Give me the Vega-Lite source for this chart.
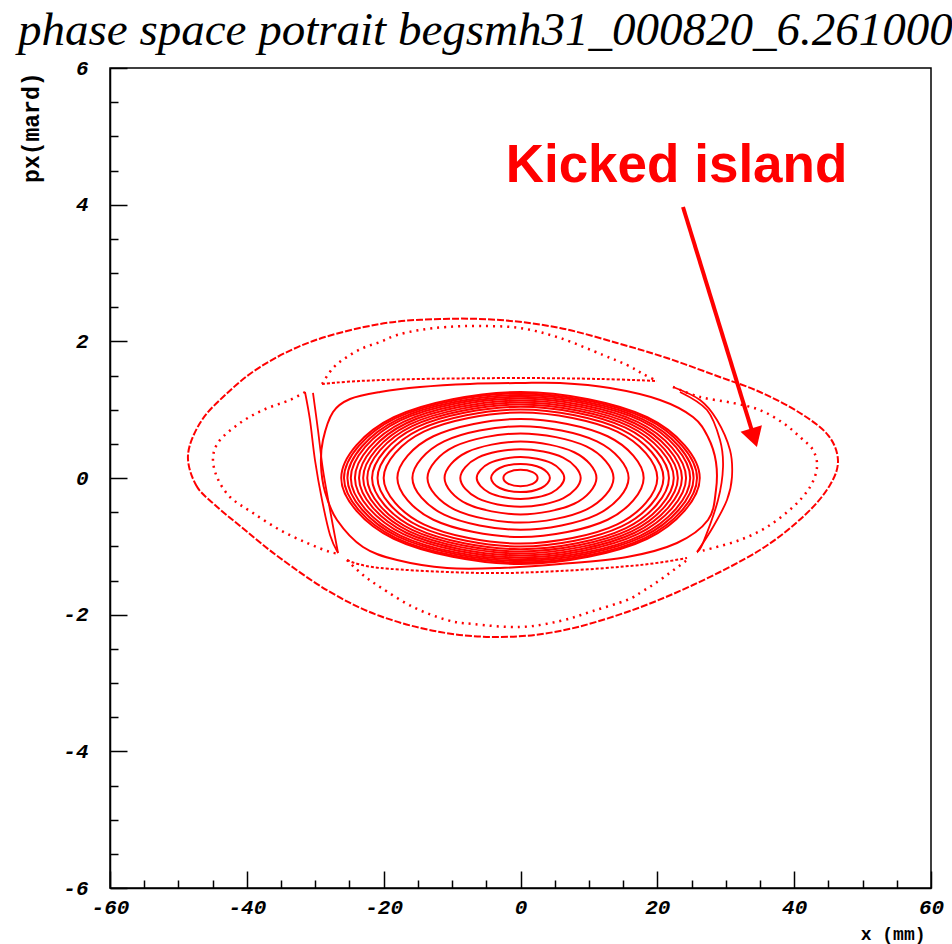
{
  "$schema": "https://vega.github.io/schema/vega-lite/v6.json",
  "width": 821,
  "height": 820,
  "autosize": {"type": "none"},
  "padding": {"left": 110, "top": 68, "right": 21, "bottom": 56},
  "background": "white",
  "title": {
    "text": "phase space potrait begsmh31_000820_6.261000",
    "anchor": "start",
    "frame": "group",
    "font": "Liberation Serif",
    "fontSize": 47,
    "fontStyle": "italic",
    "fontWeight": "normal",
    "color": "black",
    "dx": -92,
    "offset": 2
  },
  "config": {
    "view": {"stroke": "black", "strokeWidth": 1.5},
    "axis": {
      "grid": false,
      "domainColor": "black",
      "domainWidth": 1.5,
      "tickColor": "black",
      "tickWidth": 1.5,
      "labelColor": "black",
      "labelFont": "Liberation Mono",
      "labelFontSize": 21,
      "labelFontStyle": "italic",
      "labelFontWeight": "bold",
      "titleColor": "black",
      "titleFont": "Liberation Mono",
      "titleFontWeight": "bold",
      "labelOverlap": false,
      "labelFlush": false
    }
  },
  "datasets": {
    "core": [
      {"k":1,"i":0,"x":2.5,"y":0},{"k":1,"i":1,"x":1.77,"y":0.085},{"k":1,"i":2,"x":0,"y":0.12},{"k":1,"i":3,"x":-1.77,"y":0.085},{"k":1,"i":4,"x":-2.5,"y":0},{"k":1,"i":5,"x":-1.77,"y":-0.085},{"k":1,"i":6,"x":0,"y":-0.12},{"k":1,"i":7,"x":1.77,"y":-0.085},
      {"k":2,"i":0,"x":4.3,"y":0},{"k":2,"i":1,"x":3.04,"y":0.146},{"k":2,"i":2,"x":0,"y":0.206},{"k":2,"i":3,"x":-3.04,"y":0.146},{"k":2,"i":4,"x":-4.3,"y":0},{"k":2,"i":5,"x":-3.04,"y":-0.146},{"k":2,"i":6,"x":0,"y":-0.206},{"k":2,"i":7,"x":3.04,"y":-0.146},
      {"k":3,"i":0,"x":6.4,"y":0},{"k":3,"i":1,"x":4.53,"y":0.217},{"k":3,"i":2,"x":0,"y":0.307},{"k":3,"i":3,"x":-4.53,"y":0.217},{"k":3,"i":4,"x":-6.4,"y":0},{"k":3,"i":5,"x":-4.53,"y":-0.217},{"k":3,"i":6,"x":0,"y":-0.307},{"k":3,"i":7,"x":4.53,"y":-0.217},
      {"k":4,"i":0,"x":8.8,"y":0},{"k":4,"i":1,"x":6.22,"y":0.299},{"k":4,"i":2,"x":0,"y":0.422},{"k":4,"i":3,"x":-6.22,"y":0.299},{"k":4,"i":4,"x":-8.8,"y":0},{"k":4,"i":5,"x":-6.22,"y":-0.299},{"k":4,"i":6,"x":0,"y":-0.422},{"k":4,"i":7,"x":6.22,"y":-0.299},
      {"k":5,"i":0,"x":11.1,"y":0},{"k":5,"i":1,"x":7.85,"y":0.377},{"k":5,"i":2,"x":0,"y":0.533},{"k":5,"i":3,"x":-7.85,"y":0.377},{"k":5,"i":4,"x":-11.1,"y":0},{"k":5,"i":5,"x":-7.85,"y":-0.377},{"k":5,"i":6,"x":0,"y":-0.533},{"k":5,"i":7,"x":7.85,"y":-0.377},
      {"k":6,"i":0,"x":13.6,"y":0},{"k":6,"i":1,"x":9.62,"y":0.462},{"k":6,"i":2,"x":0,"y":0.653},{"k":6,"i":3,"x":-9.62,"y":0.462},{"k":6,"i":4,"x":-13.6,"y":0},{"k":6,"i":5,"x":-9.62,"y":-0.462},{"k":6,"i":6,"x":0,"y":-0.653},{"k":6,"i":7,"x":9.62,"y":-0.462},
      {"k":7,"i":0,"x":15.8,"y":0},{"k":7,"i":1,"x":11.17,"y":0.536},{"k":7,"i":2,"x":0,"y":0.758},{"k":7,"i":3,"x":-11.17,"y":0.536},{"k":7,"i":4,"x":-15.8,"y":0},{"k":7,"i":5,"x":-11.17,"y":-0.536},{"k":7,"i":6,"x":0,"y":-0.758},{"k":7,"i":7,"x":11.17,"y":-0.536},
      {"k":8,"i":0,"x":18.0,"y":0},{"k":8,"i":1,"x":12.73,"y":0.611},{"k":8,"i":2,"x":0,"y":0.864},{"k":8,"i":3,"x":-12.73,"y":0.611},{"k":8,"i":4,"x":-18.0,"y":0},{"k":8,"i":5,"x":-12.73,"y":-0.611},{"k":8,"i":6,"x":0,"y":-0.864},{"k":8,"i":7,"x":12.73,"y":-0.611},
      {"k":9,"i":0,"x":20.0,"y":0},{"k":9,"i":1,"x":14.14,"y":0.679},{"k":9,"i":2,"x":0,"y":0.96},{"k":9,"i":3,"x":-14.14,"y":0.679},{"k":9,"i":4,"x":-20.0,"y":0},{"k":9,"i":5,"x":-14.14,"y":-0.679},{"k":9,"i":6,"x":0,"y":-0.96},{"k":9,"i":7,"x":14.14,"y":-0.679},
      {"k":10,"i":0,"x":20.9,"y":0},{"k":10,"i":1,"x":14.78,"y":0.709},{"k":10,"i":2,"x":0,"y":1.003},{"k":10,"i":3,"x":-14.78,"y":0.709},{"k":10,"i":4,"x":-20.9,"y":0},{"k":10,"i":5,"x":-14.78,"y":-0.709},{"k":10,"i":6,"x":0,"y":-1.003},{"k":10,"i":7,"x":14.78,"y":-0.709},
      {"k":11,"i":0,"x":21.7,"y":0},{"k":11,"i":1,"x":15.34,"y":0.737},{"k":11,"i":2,"x":0,"y":1.042},{"k":11,"i":3,"x":-15.34,"y":0.737},{"k":11,"i":4,"x":-21.7,"y":0},{"k":11,"i":5,"x":-15.34,"y":-0.737},{"k":11,"i":6,"x":0,"y":-1.042},{"k":11,"i":7,"x":15.34,"y":-0.737},
      {"k":12,"i":0,"x":22.4,"y":0},{"k":12,"i":1,"x":15.84,"y":0.76},{"k":12,"i":2,"x":0,"y":1.075},{"k":12,"i":3,"x":-15.84,"y":0.76},{"k":12,"i":4,"x":-22.4,"y":0},{"k":12,"i":5,"x":-15.84,"y":-0.76},{"k":12,"i":6,"x":0,"y":-1.075},{"k":12,"i":7,"x":15.84,"y":-0.76},
      {"k":13,"i":0,"x":23.0,"y":0},{"k":13,"i":1,"x":16.26,"y":0.781},{"k":13,"i":2,"x":0,"y":1.104},{"k":13,"i":3,"x":-16.26,"y":0.781},{"k":13,"i":4,"x":-23.0,"y":0},{"k":13,"i":5,"x":-16.26,"y":-0.781},{"k":13,"i":6,"x":0,"y":-1.104},{"k":13,"i":7,"x":16.26,"y":-0.781},
      {"k":14,"i":0,"x":23.6,"y":0},{"k":14,"i":1,"x":16.69,"y":0.801},{"k":14,"i":2,"x":0,"y":1.133},{"k":14,"i":3,"x":-16.69,"y":0.801},{"k":14,"i":4,"x":-23.6,"y":0},{"k":14,"i":5,"x":-16.69,"y":-0.801},{"k":14,"i":6,"x":0,"y":-1.133},{"k":14,"i":7,"x":16.69,"y":-0.801},
      {"k":15,"i":0,"x":24.2,"y":0},{"k":15,"i":1,"x":17.11,"y":0.821},{"k":15,"i":2,"x":0,"y":1.162},{"k":15,"i":3,"x":-17.11,"y":0.821},{"k":15,"i":4,"x":-24.2,"y":0},{"k":15,"i":5,"x":-17.11,"y":-0.821},{"k":15,"i":6,"x":0,"y":-1.162},{"k":15,"i":7,"x":17.11,"y":-0.821},
      {"k":16,"i":0,"x":24.8,"y":0},{"k":16,"i":1,"x":17.54,"y":0.842},{"k":16,"i":2,"x":0,"y":1.19},{"k":16,"i":3,"x":-17.54,"y":0.842},{"k":16,"i":4,"x":-24.8,"y":0},{"k":16,"i":5,"x":-17.54,"y":-0.842},{"k":16,"i":6,"x":0,"y":-1.19},{"k":16,"i":7,"x":17.54,"y":-0.842},
      {"k":17,"i":0,"x":25.3,"y":0},{"k":17,"i":1,"x":17.89,"y":0.859},{"k":17,"i":2,"x":0,"y":1.214},{"k":17,"i":3,"x":-17.89,"y":0.859},{"k":17,"i":4,"x":-25.3,"y":0},{"k":17,"i":5,"x":-17.89,"y":-0.859},{"k":17,"i":6,"x":0,"y":-1.214},{"k":17,"i":7,"x":17.89,"y":-0.859},
      {"k":18,"i":0,"x":25.8,"y":0},{"k":18,"i":1,"x":18.24,"y":0.876},{"k":18,"i":2,"x":0,"y":1.238},{"k":18,"i":3,"x":-18.24,"y":0.876},{"k":18,"i":4,"x":-25.8,"y":0},{"k":18,"i":5,"x":-18.24,"y":-0.876},{"k":18,"i":6,"x":0,"y":-1.238},{"k":18,"i":7,"x":18.24,"y":-0.876},
      {"k":19,"i":0,"x":26.2,"y":0},{"k":19,"i":1,"x":18.53,"y":0.889},{"k":19,"i":2,"x":0,"y":1.258},{"k":19,"i":3,"x":-18.53,"y":0.889},{"k":19,"i":4,"x":-26.2,"y":0},{"k":19,"i":5,"x":-18.53,"y":-0.889},{"k":19,"i":6,"x":0,"y":-1.258},{"k":19,"i":7,"x":18.53,"y":-0.889}
    ],
    "torus": [
      {"k":"S","i":0,"x":-29.16,"y":0.19},{"k":"S","i":1,"x":-28.87,"y":0.556},{"k":"S","i":2,"x":-27.4,"y":0.966},{"k":"S","i":3,"x":-24.92,"y":1.156},{"k":"S","i":4,"x":-20.53,"y":1.259},{"k":"S","i":5,"x":-14.69,"y":1.332},{"k":"S","i":6,"x":-7.38,"y":1.376},{"k":"S","i":7,"x":-0.07,"y":1.39},{"k":"S","i":8,"x":5.77,"y":1.39},{"k":"S","i":9,"x":13.08,"y":1.317},{"k":"S","i":10,"x":20.39,"y":1.142},{"k":"S","i":11,"x":25.21,"y":0.893},{"k":"S","i":12,"x":27.4,"y":0.6},{"k":"S","i":13,"x":28.57,"y":0.234},{"k":"S","i":14,"x":28.57,"y":-0.176},{"k":"S","i":15,"x":27.4,"y":-0.615},{"k":"S","i":16,"x":22.87,"y":-0.951},{"k":"S","i":17,"x":15.57,"y":-1.156},{"k":"S","i":18,"x":5.77,"y":-1.259},{"k":"S","i":19,"x":-3.0,"y":-1.317},{"k":"S","i":20,"x":-10.74,"y":-1.317},{"k":"S","i":21,"x":-18.05,"y":-1.2},{"k":"S","i":22,"x":-23.02,"y":-1.01},{"k":"S","i":23,"x":-26.82,"y":-0.615},{"k":"S","i":24,"x":-28.57,"y":-0.205}
    ],
    "outer": [
      {"k":"O","i":0,"x":-48.6,"y":0.337},{"k":"O","i":1,"x":-47.43,"y":-0.102},{"k":"O","i":2,"x":-44.65,"y":-0.395},{"k":"O","i":3,"x":-40.27,"y":-0.761},{"k":"O","i":4,"x":-35.15,"y":-1.171},{"k":"O","i":5,"x":-27.84,"y":-1.668},{"k":"O","i":6,"x":-20.53,"y":-2.02},{"k":"O","i":7,"x":-11.77,"y":-2.254},{"k":"O","i":8,"x":-3.0,"y":-2.327},{"k":"O","i":9,"x":5.77,"y":-2.239},{"k":"O","i":10,"x":15.57,"y":-1.961},{"k":"O","i":11,"x":25.21,"y":-1.566},{"k":"O","i":12,"x":35.0,"y":-1.054},{"k":"O","i":13,"x":41.58,"y":-0.541},{"k":"O","i":14,"x":45.24,"y":-0.102},{"k":"O","i":15,"x":46.4,"y":0.263},{"k":"O","i":16,"x":44.94,"y":0.629},{"k":"O","i":17,"x":40.85,"y":0.951},{"k":"O","i":18,"x":35.0,"y":1.259},{"k":"O","i":19,"x":28.72,"y":1.493},{"k":"O","i":20,"x":21.41,"y":1.756},{"k":"O","i":21,"x":14.1,"y":1.976},{"k":"O","i":22,"x":5.77,"y":2.195},{"k":"O","i":23,"x":-3.0,"y":2.312},{"k":"O","i":24,"x":-11.77,"y":2.327},{"k":"O","i":25,"x":-20.53,"y":2.254},{"k":"O","i":26,"x":-30.33,"y":2.005},{"k":"O","i":27,"x":-38.07,"y":1.624},{"k":"O","i":28,"x":-43.48,"y":1.185},{"k":"O","i":29,"x":-46.84,"y":0.805}
    ],
    "arcs": [
      {"k":"top","i":0,"x":-29.01,"y":1.376},{"k":"top","i":1,"x":-27.4,"y":1.61},{"k":"top","i":2,"x":-25.36,"y":1.771},{"k":"top","i":3,"x":-23.02,"y":1.903},{"k":"top","i":4,"x":-20.53,"y":1.99},{"k":"top","i":5,"x":-18.05,"y":2.093},{"k":"top","i":6,"x":-14.69,"y":2.166},{"k":"top","i":7,"x":-10.74,"y":2.21},{"k":"top","i":8,"x":-5.92,"y":2.224},{"k":"top","i":9,"x":-0.07,"y":2.195},{"k":"top","i":10,"x":5.77,"y":2.049},{"k":"top","i":11,"x":12.06,"y":1.8},{"k":"top","i":12,"x":15.57,"y":1.654},{"k":"top","i":13,"x":17.9,"y":1.522},{"k":"top","i":14,"x":19.95,"y":1.42},
      {"k":"right","i":0,"x":22.29,"y":1.332},{"k":"right","i":1,"x":26.24,"y":1.185},{"k":"right","i":2,"x":31.06,"y":1.098},{"k":"right","i":3,"x":35.0,"y":0.995},{"k":"right","i":4,"x":38.37,"y":0.805},{"k":"right","i":5,"x":40.85,"y":0.6},{"k":"right","i":6,"x":42.75,"y":0.41},{"k":"right","i":7,"x":43.34,"y":0.161},{"k":"right","i":8,"x":42.31,"y":-0.132},{"k":"right","i":9,"x":39.83,"y":-0.424},{"k":"right","i":10,"x":36.03,"y":-0.717},{"k":"right","i":11,"x":32.08,"y":-0.907},{"k":"right","i":12,"x":28.14,"y":-1.024},{"k":"right","i":13,"x":25.8,"y":-1.083},
      {"k":"bottom","i":0,"x":-25.36,"y":-1.2},{"k":"bottom","i":1,"x":-23.02,"y":-1.42},{"k":"bottom","i":2,"x":-20.53,"y":-1.595},{"k":"bottom","i":3,"x":-15.71,"y":-1.888},{"k":"bottom","i":4,"x":-10.74,"y":-2.078},{"k":"bottom","i":5,"x":-6.94,"y":-2.137},{"k":"bottom","i":6,"x":-0.07,"y":-2.181},{"k":"bottom","i":7,"x":5.77,"y":-2.093},{"k":"bottom","i":8,"x":10.6,"y":-1.946},{"k":"bottom","i":9,"x":15.57,"y":-1.785},{"k":"bottom","i":10,"x":17.9,"y":-1.654},{"k":"bottom","i":11,"x":20.39,"y":-1.493},{"k":"bottom","i":12,"x":24.34,"y":-1.2},
      {"k":"left","i":0,"x":-31.5,"y":1.259},{"k":"left","i":1,"x":-33.69,"y":1.142},{"k":"left","i":2,"x":-37.64,"y":0.995},{"k":"left","i":3,"x":-41.0,"y":0.805},{"k":"left","i":4,"x":-43.92,"y":0.556},{"k":"left","i":5,"x":-44.94,"y":0.307},{"k":"left","i":6,"x":-44.36,"y":0.015},{"k":"left","i":7,"x":-42.46,"y":-0.278},{"k":"left","i":8,"x":-39.1,"y":-0.512},{"k":"left","i":9,"x":-35.15,"y":-0.761},{"k":"left","i":10,"x":-31.2,"y":-0.951},{"k":"left","i":11,"x":-27.84,"y":-1.083},{"k":"left","i":12,"x":-26.67,"y":-1.098}
    ],
    "bands": [
      {"k":"tb","i":0,"x":-29.01,"y":1.376},{"k":"tb","i":1,"x":-23.46,"y":1.42},{"k":"tb","i":2,"x":-14.69,"y":1.449},{"k":"tb","i":3,"x":-0.07,"y":1.463},{"k":"tb","i":4,"x":11.62,"y":1.449},{"k":"tb","i":5,"x":19.95,"y":1.42},
      {"k":"bb","i":0,"x":-25.36,"y":-1.2},{"k":"bb","i":1,"x":-20.53,"y":-1.317},{"k":"bb","i":2,"x":-5.92,"y":-1.39},{"k":"bb","i":3,"x":5.77,"y":-1.361},{"k":"bb","i":4,"x":17.47,"y":-1.273},{"k":"bb","i":5,"x":24.34,"y":-1.171}
    ],
    "spindles": [
      {"k":"ra","i":0,"x":22.29,"y":1.332},{"k":"ra","i":1,"x":26.24,"y":1.142},{"k":"ra","i":2,"x":28.72,"y":0.849},{"k":"ra","i":3,"x":30.62,"y":0.41},{"k":"ra","i":4,"x":30.91,"y":0.015},{"k":"ra","i":5,"x":30.18,"y":-0.322},{"k":"ra","i":6,"x":28.14,"y":-0.717},{"k":"ra","i":7,"x":25.8,"y":-1.083},
      {"k":"rb","i":0,"x":23.31,"y":1.259},{"k":"rb","i":1,"x":27.26,"y":0.995},{"k":"rb","i":2,"x":29.16,"y":0.556},{"k":"rb","i":3,"x":29.6,"y":0.161},{"k":"rb","i":4,"x":28.87,"y":-0.322},{"k":"rb","i":5,"x":26.67,"y":-0.951},{"k":"rb","i":6,"x":25.8,"y":-1.083},
      {"k":"la","i":0,"x":-31.5,"y":1.259},{"k":"la","i":1,"x":-30.77,"y":0.849},{"k":"la","i":2,"x":-30.04,"y":0.263},{"k":"la","i":3,"x":-29.01,"y":-0.322},{"k":"la","i":4,"x":-27.84,"y":-0.834},{"k":"la","i":5,"x":-26.67,"y":-1.098},
      {"k":"lb","i":0,"x":-30.33,"y":1.244},{"k":"lb","i":1,"x":-29.6,"y":0.702},{"k":"lb","i":2,"x":-28.87,"y":0.117},{"k":"lb","i":3,"x":-27.84,"y":-0.468},{"k":"lb","i":4,"x":-26.67,"y":-1.098}
    ],
    "arrow": [{"x": 23.75, "y": 3.966, "x2": 34.14, "y2": 0.59}],
    "head": [{"x": 34.14, "y": 0.59}],
    "label": [{"x": 22.8, "y": 4.33, "text": "Kicked island"}]
  },
  "encoding": {
    "x": {
      "field": "x",
      "type": "quantitative",
      "scale": {"domain": [-60, 60], "nice": false, "zero": false},
      "axis": {
        "title": "x (mm)",
        "titleFontSize": 18,
        "titleAlign": "right",
        "titleBaseline": "top",
        "titleX": 815,
        "titleY": 37,
        "values": [-60,-55,-50,-45,-40,-35,-30,-25,-20,-15,-10,-5,0,5,10,15,20,25,30,35,40,45,50,55,60],
        "labelExpr": "datum.value % 20 === 0 ? '' + datum.value : ''",
        "tickSize": {"condition": {"test": "datum.value % 20 === 0", "value": -17}, "value": -8},
        "labelPadding": 25
      }
    },
    "y": {
      "field": "y",
      "type": "quantitative",
      "scale": {"domain": [-6, 6], "nice": false, "zero": false},
      "axis": {
        "title": "px(mard)",
        "titleFontSize": 23,
        "titleAngle": -90,
        "titleAlign": "right",
        "titleBaseline": "bottom",
        "titleX": -67,
        "titleY": 4,
        "values": [-6,-5.5,-5,-4.5,-4,-3.5,-3,-2.5,-2,-1.5,-1,-0.5,0,0.5,1,1.5,2,2.5,3,3.5,4,4.5,5,5.5,6],
        "labelExpr": "datum.value % 2 === 0 ? '' + datum.value : ''",
        "tickSize": {"condition": {"test": "datum.value % 2 === 0", "value": -17}, "value": -8},
        "labelPadding": 39
      }
    }
  },
  "layer": [
    {
      "data": {"name": "core"},
      "mark": {"type": "line", "interpolate": "cardinal-closed", "color": "#ff0000", "strokeWidth": 2},
      "encoding": {"detail": {"field": "k", "type": "nominal"}, "order": {"field": "i", "type": "quantitative"}}
    },
    {
      "data": {"name": "torus"},
      "mark": {"type": "line", "interpolate": "cardinal-closed", "color": "#ff0000", "strokeWidth": 2},
      "encoding": {"detail": {"field": "k", "type": "nominal"}, "order": {"field": "i", "type": "quantitative"}}
    },
    {
      "data": {"name": "outer"},
      "mark": {"type": "line", "interpolate": "cardinal-closed", "color": "#ff0000", "strokeWidth": 2, "strokeDash": [7, 2]},
      "encoding": {"detail": {"field": "k", "type": "nominal"}, "order": {"field": "i", "type": "quantitative"}}
    },
    {
      "data": {"name": "arcs"},
      "mark": {"type": "line", "interpolate": "cardinal", "color": "#ff0000", "strokeWidth": 2.5, "strokeDash": [2, 5]},
      "encoding": {"detail": {"field": "k", "type": "nominal"}, "order": {"field": "i", "type": "quantitative"}}
    },
    {
      "data": {"name": "bands"},
      "mark": {"type": "line", "interpolate": "cardinal", "color": "#ff0000", "strokeWidth": 2, "strokeDash": [3, 2]},
      "encoding": {"detail": {"field": "k", "type": "nominal"}, "order": {"field": "i", "type": "quantitative"}}
    },
    {
      "data": {"name": "spindles"},
      "mark": {"type": "line", "interpolate": "cardinal", "color": "#ff0000", "strokeWidth": 1.8},
      "encoding": {"detail": {"field": "k", "type": "nominal"}, "order": {"field": "i", "type": "quantitative"}}
    },
    {
      "data": {"name": "arrow"},
      "mark": {"type": "rule", "color": "#ff0000", "strokeWidth": 4},
      "encoding": {"x2": {"field": "x2"}, "y2": {"field": "y2"}}
    },
    {
      "data": {"name": "head"},
      "mark": {"type": "point", "shape": "triangle-down", "filled": true, "color": "#ff0000", "opacity": 1, "size": 500, "angle": -17, "strokeWidth": 0},
      "encoding": {}
    },
    {
      "data": {"name": "label"},
      "mark": {"type": "text", "font": "Liberation Sans", "fontWeight": "bold", "fontSize": 53, "color": "#ff0000", "align": "center", "baseline": "alphabetic"},
      "encoding": {"text": {"field": "text"}}
    }
  ]
}
